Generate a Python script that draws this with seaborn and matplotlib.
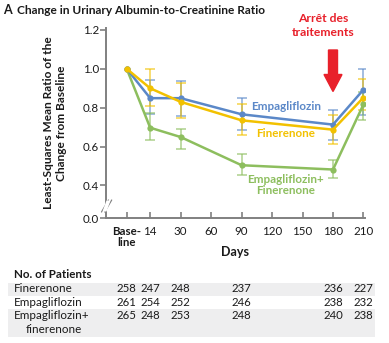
import numpy as np
import pandas as pd
import matplotlib
matplotlib.use("Agg")
import matplotlib.pyplot as plt
import seaborn as sns
from matplotlib.patches import Polygon, FancyArrow, Rectangle

sns.set_style("white")
plt.rcParams["font.family"] = ["Lato", "DejaVu Sans"]

# ---- data -------------------------------------------------------------
day_labels = ["Base-\nline", "14", "30", "60", "90", "120", "150", "180", "210"]
obs_labels = ["Base-\nline", "14", "30", "90", "180", "210"]

fin_mean = [1.0, 0.90, 0.83, 0.735, 0.687, 0.852]
fin_lo = [1.0, 0.807, 0.749, 0.662, 0.612, 0.790]
fin_hi = [1.0, 0.998, 0.926, 0.817, 0.760, 0.950]

emp_mean = [1.0, 0.849, 0.849, 0.766, 0.713, 0.893]
emp_lo = [1.0, 0.766, 0.755, 0.687, 0.636, 0.760]
emp_hi = [1.0, 0.944, 0.937, 0.849, 0.786, 1.000]

combo_mean = [1.0, 0.697, 0.649, 0.504, 0.482, 0.817]
combo_lo = [1.0, 0.632, 0.586, 0.456, 0.436, 0.738]
combo_hi = [1.0, 0.772, 0.692, 0.560, 0.533, 0.880]

n_fin = [258, 247, 248, 237, 236, 227]
n_emp = [261, 254, 252, 246, 238, 232]
n_combo = [265, 248, 253, 248, 240, 238]

table_names = ["Finerenone", "Empagliflozin", "Empagliflozin+"]

# ---- layout -----------------------------------------------------------
W, H = 389, 343
# ordinal axis: baseline sits a little closer to day 14 than the regular spacing
tick_pos = {lab: (0.23 if i == 0 else float(i)) for i, lab in enumerate(day_labels)}
obs_x = [tick_pos[l] for l in obs_labels]

colors = {"Finerenone": "#F2C100", "Empagliflozin": "#5B88C8",
          "Empagliflozin+\nFinerenone": "#8DBE5E"}
ink = "#1a1a1a"

fig = plt.figure(figsize=(W / 100, H / 100), dpi=100)
ax = fig.add_axes([106 / W, 1 - 218.3 / H, (365 - 106) / W, (218.3 - 28) / H])

ymin, ymax = 0.231, 1.21
ax.set_xlim(-0.45, 8.05)
ax.set_ylim(ymin, ymax)

stats = {
    "Empagliflozin": (emp_mean, emp_lo, emp_hi),
    "Finerenone": (fin_mean, fin_lo, fin_hi),
    "Empagliflozin+\nFinerenone": (combo_mean, combo_lo, combo_hi),
}
rows = []
for name, (m, lo, hi) in stats.items():
    for x, v in zip(obs_x, m):
        rows.append({"pos": x, "ratio": v, "group": name})
df = pd.DataFrame(rows)

# error bars (lighter), then lines with markers
for name, (m, lo, hi) in stats.items():
    m_, lo_, hi_ = np.array(m), np.array(lo), np.array(hi)
    ax.errorbar(obs_x[1:], m_[1:], yerr=[m_[1:] - lo_[1:], hi_[1:] - m_[1:]],
                fmt="none", ecolor=colors[name], alpha=0.6, elinewidth=1.3,
                capsize=3.4, capthick=1.3, zorder=2)

for name in ["Empagliflozin+\nFinerenone", "Empagliflozin", "Finerenone"]:
    sns.lineplot(data=df[df.group == name], x="pos", y="ratio", ax=ax,
                 color=colors[name], linewidth=1.8, marker="o", markersize=4.5,
                 markeredgewidth=0, legend=False, zorder=3)

ax.set_xlabel("")
ax.set_ylabel("")

# spines and ticks
for s in ["top", "right"]:
    ax.spines[s].set_visible(False)
for s in ["left", "bottom"]:
    ax.spines[s].set_color("#808080")
    ax.spines[s].set_linewidth(1.4)

ax.set_yticks([ymin, 0.4, 0.6, 0.8, 1.0, 1.2])
ax.set_yticklabels(["0.0", "0.4", "0.6", "0.8", "1.0", "1.2"])
ax.tick_params(axis="y", direction="out", length=4, width=1.2, color="#808080",
               labelsize=8.3, labelcolor=ink, pad=1, left=True)
ax.set_xticks([tick_pos[l] for l in day_labels])
ax.set_xticklabels(day_labels)
ax.tick_params(axis="x", direction="in", length=4, width=1.2, color="#808080",
               labelsize=8.3, labelcolor=ink, pad=5.5, bottom=True)
base_lab = ax.get_xticklabels()[0]
base_lab.set_fontweight("bold")
base_lab.set_horizontalalignment("center")
base_lab.set_linespacing(1.05)

# axis break on the y spine
def fx(px):
    return px / W
def fy(py):
    return 1 - py / H
brk = Polygon([(fx(102.5), fy(211.5)), (fx(106.5), fy(211.5)), (fx(110.5), fy(200.5)),
               (fx(106.5), fy(200.5))], closed=True, transform=fig.transFigure,
              facecolor="white", edgecolor="none", zorder=5)
fig.patches.append(brk)
for dx in (0, 3.2):
    fig.add_artist(plt.Line2D([fx(101.5 + dx), fx(108.5 + dx)], [fy(212), fy(200)],
                              transform=fig.transFigure, color="#808080", lw=0.9))

# series labels
lab_kw = dict(fontsize=8.4, fontweight="bold", ha="center", va="center")
ax.text(5.45, 0.808, "Empagliflozin", color=colors["Empagliflozin"], **lab_kw)
ax.text(5.45, 0.668, "Finerenone", color=colors["Finerenone"], **lab_kw)
ax.text(5.45, 0.404, "Empagliflozin+\nFinerenone", color=colors["Empagliflozin+\nFinerenone"],
        linespacing=1.0, **lab_kw)

# treatment stop marker
fig.patches.append(FancyArrow(fx(333), fy(50), 0, -(91.5 - 50) / H, width=9 / W,
                              head_width=18 / W, head_length=17 / H,
                              length_includes_head=True, transform=fig.transFigure,
                              color="#E8202A", zorder=6))
fig.text(fx(323), fy(25.5), "Arrêt des\ntraitements", color="#E8202A", fontsize=8.7,
         fontweight="bold", ha="center", va="center", linespacing=1.25)

# titles
fig.text(fx(3), fy(10), "A", fontsize=9, fontweight="bold", color=ink,
         ha="left", va="center")
fig.text(fx(17), fy(10), "Change in Urinary Albumin-to-Creatinine Ratio", fontsize=8.6,
         fontweight="bold", color=ink, ha="left", va="center")
fig.text(fx(55), fy(123), "Least-Squares Mean Ratio of the\nChange from Baseline",
         rotation=90, fontsize=8.6, fontweight="bold", color=ink,
         ha="center", va="center", linespacing=1.15)
fig.text(fx(235), fy(252), "Days", fontsize=9.0, fontweight="bold", color=ink,
         ha="center", va="center")

# patient counts table
fig.patches.append(Rectangle((fx(8), fy(296)), (375 - 8) / W, 13 / H,
                             transform=fig.transFigure, facecolor="#EEEEEF",
                             edgecolor="none", zorder=0))
fig.patches.append(Rectangle((fx(8), fy(337)), (375 - 8) / W, 28 / H,
                             transform=fig.transFigure, facecolor="#EEEEEF",
                             edgecolor="none", zorder=0))
fig.text(fx(14), fy(274), "No. of Patients", fontsize=8.4, fontweight="bold",
         color=ink, ha="left", va="center")
row_y = [289, 302.5, 315.5]
col_px = [ax.transData.transform((p, ymin))[0] for p in obs_x]
for name, counts, yy in zip(table_names, [n_fin, n_emp, n_combo], row_y):
    fig.text(fx(14), fy(yy), name, fontsize=8.4, color=ink, ha="left", va="center")
    for cx, n in zip(col_px, counts):
        fig.text(cx / W, fy(yy), str(n), fontsize=8.2, color=ink,
                 ha="center", va="center")
fig.text(fx(26), fy(329.5), "finerenone", fontsize=8.4, color=ink,
         ha="left", va="center")

fig.savefig("out.png", dpi=100)
